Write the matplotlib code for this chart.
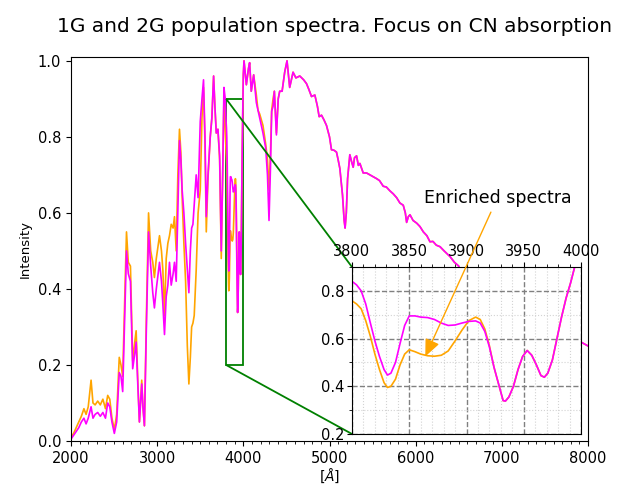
import numpy as np
import matplotlib
matplotlib.use("Agg")
import matplotlib.pyplot as plt
from matplotlib.ticker import MultipleLocator
from mpl_toolkits.axes_grid1.inset_locator import mark_inset

# wavelength grid [A], 1G (magenta) and 2G (orange) intensities
wavelength = [
	2000, 2030, 2060, 2090, 2120, 2150, 2175, 2200, 2233, 2255, 2280, 2310, 2340, 2370, 2400,
	2426, 2450, 2475, 2503, 2530, 2560, 2580, 2600, 2620, 2644, 2665, 2690, 2716, 2740, 2756,
	2775, 2794, 2821, 2835, 2852, 2875, 2900, 2925, 2949, 2968, 2990, 3027, 3050, 3066, 3085,
	3105, 3124, 3143, 3163, 3185, 3201, 3221, 3240, 3259, 3275, 3290, 3310, 3330, 3350, 3368,
	3385, 3400, 3415, 3430, 3453, 3475, 3500, 3520, 3538, 3555, 3570, 3590, 3616, 3635, 3655,
	3670, 3686, 3705, 3725, 3744, 3760, 3775, 3790,
	3800, 3804, 3808, 3812, 3816, 3820, 3824, 3828, 3831, 3834, 3838, 3842, 3846, 3850, 3855,
	3860, 3866, 3872, 3878, 3884, 3890, 3896, 3902, 3908, 3912, 3916, 3920, 3924, 3928, 3932,
	3934, 3937, 3941, 3945, 3949, 3953, 3957, 3961, 3965, 3968, 3971, 3975, 3979, 3983, 3987,
	3991, 3995, 4000,
	4008, 4035, 4060, 4073, 4092, 4120, 4151, 4170, 4190, 4228, 4260, 4280, 4298, 4315, 4329,
	4345, 4360, 4384, 4405, 4422, 4450, 4480, 4507, 4538, 4577, 4610, 4655, 4700, 4733, 4760,
	4791, 4830, 4860, 4880, 4907, 4935, 4965, 5000, 5023, 5050, 5081, 5100, 5120, 5151, 5170,
	5181, 5195, 5210, 5236, 5256, 5275, 5290, 5314, 5335, 5353, 5391, 5430, 5469, 5510, 5547,
	5580, 5624, 5660, 5701, 5740, 5779, 5817, 5856, 5880, 5895, 5915, 5934, 5970, 6012, 6050,
	6089, 6130, 6166, 6200, 6240, 6283, 6330, 6399, 6450, 6500, 6563, 6600, 6800, 7000, 7200,
	7400, 7600, 7800, 8000]

flux_1g = [
	0.005, 0.015, 0.025, 0.035, 0.050, 0.060, 0.045, 0.060, 0.090, 0.060, 0.070, 0.075, 0.065, 0.075, 0.060,
	0.100, 0.090, 0.050, 0.020, 0.050, 0.180, 0.170, 0.130, 0.300, 0.500, 0.440, 0.420, 0.190, 0.230, 0.260,
	0.150, 0.050, 0.150, 0.090, 0.040, 0.300, 0.550, 0.460, 0.390, 0.350, 0.400, 0.470, 0.420, 0.360, 0.280,
	0.380, 0.410, 0.470, 0.410, 0.440, 0.470, 0.420, 0.600, 0.790, 0.740, 0.660, 0.600, 0.520, 0.450, 0.390,
	0.500, 0.560, 0.570, 0.620, 0.700, 0.640, 0.840, 0.900, 0.950, 0.800, 0.590, 0.700, 0.800, 0.850, 0.960,
	0.880, 0.810, 0.820, 0.750, 0.500, 0.700, 0.930, 0.900,
	0.840, 0.825, 0.800, 0.745, 0.666, 0.590, 0.525, 0.470, 0.447, 0.455, 0.500, 0.580, 0.655, 0.695, 0.695,
	0.690, 0.688, 0.680, 0.665, 0.655, 0.657, 0.665, 0.672, 0.674, 0.665, 0.630, 0.565, 0.480, 0.410, 0.340,
	0.338, 0.355, 0.400, 0.470, 0.525, 0.550, 0.530, 0.490, 0.445, 0.438, 0.455, 0.510, 0.600, 0.690, 0.770,
	0.835, 0.910, 0.965,
	1.000, 0.937, 0.980, 0.995, 0.920, 0.963, 0.890, 0.870, 0.850, 0.810, 0.770, 0.700, 0.580, 0.720, 0.867,
	0.880, 0.920, 0.805, 0.900, 0.920, 0.920, 0.970, 1.000, 0.930, 0.970, 0.955, 0.960, 0.950, 0.940, 0.925,
	0.906, 0.910, 0.880, 0.853, 0.857, 0.845, 0.830, 0.800, 0.766, 0.765, 0.760, 0.740, 0.717, 0.647, 0.580,
	0.560, 0.600, 0.690, 0.753, 0.735, 0.720, 0.745, 0.750, 0.725, 0.730, 0.705, 0.705, 0.700, 0.695, 0.690,
	0.685, 0.670, 0.668, 0.658, 0.650, 0.640, 0.626, 0.620, 0.600, 0.575, 0.590, 0.595, 0.580, 0.573, 0.564,
	0.550, 0.540, 0.524, 0.525, 0.515, 0.511, 0.500, 0.485, 0.470, 0.460, 0.400, 0.445, 0.410, 0.380, 0.350,
	0.320, 0.300, 0.275, 0.250]

flux_2g = [
	0.010, 0.020, 0.035, 0.050, 0.065, 0.085, 0.070, 0.090, 0.160, 0.100, 0.095, 0.105, 0.095, 0.110, 0.085,
	0.120, 0.110, 0.060, 0.030, 0.070, 0.220, 0.200, 0.170, 0.340, 0.550, 0.470, 0.460, 0.210, 0.260, 0.290,
	0.160, 0.050, 0.160, 0.090, 0.040, 0.330, 0.600, 0.500, 0.470, 0.430, 0.480, 0.540, 0.500, 0.450, 0.330,
	0.480, 0.520, 0.540, 0.570, 0.560, 0.590, 0.500, 0.700, 0.820, 0.760, 0.640, 0.520, 0.420, 0.250, 0.150,
	0.220, 0.300, 0.310, 0.330, 0.450, 0.600, 0.660, 0.850, 0.930, 0.780, 0.550, 0.690, 0.800, 0.850, 0.960,
	0.880, 0.810, 0.820, 0.740, 0.480, 0.690, 0.900, 0.820,
	0.758, 0.745, 0.725, 0.675, 0.610, 0.535, 0.470, 0.415, 0.395, 0.400, 0.430, 0.490, 0.535, 0.553, 0.545,
	0.535, 0.528, 0.526, 0.530, 0.548, 0.590, 0.635, 0.675, 0.690, 0.680, 0.640, 0.570, 0.480, 0.410, 0.340,
	0.338, 0.355, 0.400, 0.470, 0.525, 0.550, 0.530, 0.490, 0.445, 0.438, 0.455, 0.510, 0.600, 0.690, 0.770,
	0.835, 0.910, 0.965,
	1.000, 0.937, 0.980, 0.995, 0.920, 0.963, 0.910, 0.870, 0.860, 0.830, 0.780, 0.740, 0.660, 0.760, 0.870,
	0.900, 0.920, 0.810, 0.900, 0.920, 0.920, 0.970, 1.000, 0.930, 0.970, 0.955, 0.960, 0.950, 0.940, 0.925,
	0.906, 0.910, 0.880, 0.853, 0.857, 0.845, 0.830, 0.800, 0.766, 0.765, 0.760, 0.740, 0.717, 0.647, 0.580,
	0.560, 0.600, 0.690, 0.753, 0.735, 0.720, 0.745, 0.750, 0.725, 0.730, 0.705, 0.705, 0.700, 0.695, 0.690,
	0.685, 0.670, 0.668, 0.658, 0.650, 0.640, 0.626, 0.620, 0.600, 0.575, 0.590, 0.595, 0.580, 0.573, 0.564,
	0.550, 0.540, 0.524, 0.525, 0.515, 0.511, 0.500, 0.485, 0.470, 0.460, 0.400, 0.445, 0.410, 0.380, 0.350,
	0.320, 0.300, 0.275, 0.250]


fig = plt.figure(figsize=(6.19, 4.86), dpi=100)
ax = fig.add_axes([71/619, 45/486, 517/619, 384/486])
ax.plot(wavelength, flux_2g, color="orange", lw=1.2)
ax.plot(wavelength, flux_1g, color="magenta", lw=1.2)
ax.set_xlim(2000, 8000)
ax.set_ylim(0, 1.01)
ax.xaxis.set_minor_locator(MultipleLocator(100))
ax.tick_params(labelsize=10.5)
ax.set_xlabel(r"[$\AA$]", fontsize=10, labelpad=1)
ax.set_ylabel("Intensity", fontsize=9.5)
fig.text(335/619, 1 - 26/486, "1G and 2G population spectra. Focus on CN absorption",
	ha="center", va="center", fontsize=14.5)

# zoom on the CN band
axins = fig.add_axes([352/619, 52/486, 229/619, 167/486])
axins.plot(wavelength, flux_2g, color="orange", lw=1.2)
axins.plot(wavelength, flux_1g, color="magenta", lw=1.2)
axins.set_xlim(3800, 4000)
axins.set_ylim(0.2, 0.9)
axins.xaxis.tick_top()
axins.xaxis.set_major_locator(MultipleLocator(50))
axins.xaxis.set_minor_locator(MultipleLocator(10))
axins.yaxis.set_major_locator(MultipleLocator(0.2))
axins.yaxis.set_minor_locator(MultipleLocator(0.1))
axins.tick_params(labelsize=10.5, pad=2)
axins.grid(which="major", ls="--", color="gray", lw=1)
axins.grid(which="minor", ls=":", color="lightgray", lw=0.8)

mark_inset(ax, axins, loc1=2, loc2=3, fc="none", ec="green", lw=1.3)

axins.annotate("Enriched spectra", xy=(3864, 0.525), xytext=(3927, 1.19),
	ha="center", va="center", fontsize=12.5, annotation_clip=False,
	arrowprops=dict(arrowstyle="-|>,head_width=0.35,head_length=0.8",
		color="orange", mutation_scale=13, shrinkB=0))

fig.savefig("out.png", dpi=100)
